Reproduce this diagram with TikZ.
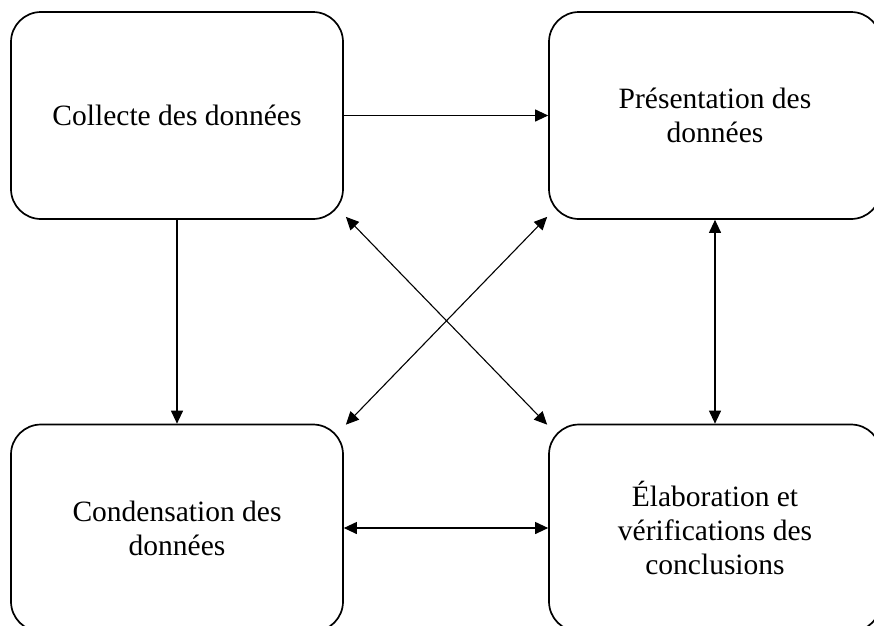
\documentclass[tikz,border=0pt]{standalone}
\usepackage{fontspec}
\setmainfont{Liberation Serif}
\usetikzlibrary{arrows.meta}
\begin{document}
\begin{tikzpicture}[x=1pt,y=-1pt,
  box/.style={draw, line width=1.7pt, rounded corners=30pt, minimum width=332pt, minimum height=207pt,
    align=center, font=\fontsize{29.5}{34}\selectfont, inner sep=0pt},
  tip/.tip={Triangle[length=13pt,width=12pt]},
  conn/.style={line width=1.1pt, -tip},
  dconn/.style={line width=1.1pt, tip-tip}]
\useasboundingbox (0,0) rectangle (874,625);
\clip (0,0) rectangle (874,625);
\node[box] (tl) at (177,115.5) {Collecte des données};
\node[box] (tr) at (715,115.5) {Présentation des\\données};
\node[box] (bl) at (177,528) {Condensation des\\données};
\node[box] (br) at (715,528) {Élaboration et\\vérifications des\\conclusions};
\draw[conn] (tl.east) -- (tr.west);
\draw[conn] (tl.south) -- (bl.north);
\draw[dconn] (tr.south) -- (br.north);
\draw[dconn] (bl.east) -- (br.west);
\draw[dconn] ([shift={(2pt,3pt)}]tl.south east) -- ([shift={(-1pt,-1pt)}]br.north west);
\draw[dconn] ([shift={(-1pt,3pt)}]tr.south west) -- ([shift={(2pt,-1pt)}]bl.north east);
\end{tikzpicture}
\end{document}
